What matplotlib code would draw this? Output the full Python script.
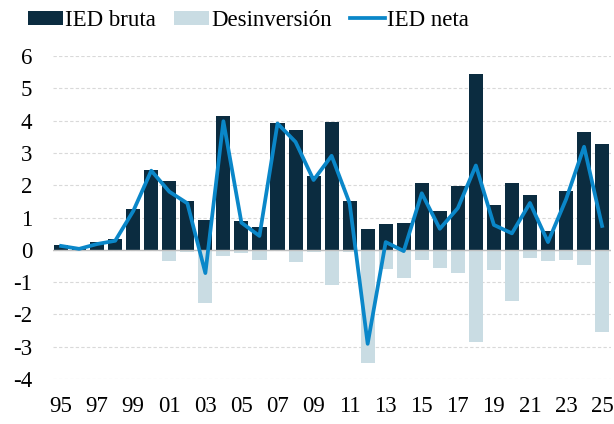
import numpy as np
import matplotlib
matplotlib.use("Agg")
import matplotlib.pyplot as plt

years = ['95', '96', '97', '98', '99', '00', '01', '02', '03', '04', '05', '06', '07', '08', '09', '10',
         '11', '12', '13', '14', '15', '16', '17', '18', '19', '20', '21', '22', '23', '24', '25']
ied_bruta = [0.15, 0.02, 0.23, 0.32, 1.27, 2.48, 2.13, 1.51, 0.93, 4.13, 0.90, 0.71, 3.92, 3.72, 2.27, 3.97,
             1.50, 0.63, 0.80, 0.83, 2.07, 1.21, 1.99, 5.45, 1.38, 2.08, 1.70, 0.57, 1.82, 3.64, 3.29]
desinversion = [0.0, 0.0, -0.04, -0.03, 0.0, -0.02, -0.34, -0.08, -1.64, -0.18, -0.11, -0.31, -0.02, -0.37, -0.07, -1.08,
                -0.07, -3.51, -0.59, -0.86, -0.33, -0.57, -0.71, -2.85, -0.62, -1.58, -0.24, -0.36, -0.31, -0.48, -2.55]
ied_neta = [0.12, 0.03, 0.18, 0.28, 1.20, 2.45, 1.80, 1.44, -0.72, 3.98, 0.84, 0.43, 3.91, 3.34, 2.16, 2.91,
            1.44, -2.91, 0.24, -0.04, 1.75, 0.65, 1.29, 2.61, 0.77, 0.51, 1.45, 0.24, 1.56, 3.19, 0.74]

plt.rcParams['font.family'] = ['Liberation Serif', 'DejaVu Serif']
plt.rcParams['axes.unicode_minus'] = False

fig = plt.figure(figsize=(6.14, 4.24), dpi=100)
ax = fig.add_axes([0.0863, 0.106, 0.909, 0.762])

x = np.arange(len(years))
b1 = ax.bar(x, ied_bruta, width=0.78, color='#0b2c40', label='IED bruta', zorder=2)
b2 = ax.bar(x, desinversion, width=0.78, color='#c9dce3', label='Desinversión', zorder=2)
l1, = ax.plot(x, ied_neta, color='#0a87c9', lw=2.7, label='IED neta', zorder=3)

ax.axhline(0, color='#bfbfbf', lw=1, zorder=2.5)
ax.set_ylim(-4, 6)
ax.set_yticks(range(-4, 7))
ax.yaxis.grid(True, linestyle=(0, (3, 2)), color='#d9d9d9', lw=0.8, zorder=0)
ax.set_xlim(-0.45, 30.5)
ax.set_xticks(x[::2])
ax.set_xticklabels(years[::2])
ax.tick_params(axis='both', length=0, labelsize=16.5)
ax.tick_params(axis='y', pad=15)
ax.tick_params(axis='x', pad=12)
for s in ax.spines.values():
    s.set_visible(False)

fig.legend(handles=[b1, b2, l1], loc='center left', bbox_to_anchor=(0.045, 0.952), ncol=3, frameon=False,
           fontsize=16.5, handlelength=1.55, handleheight=0.55, handletextpad=0.08, columnspacing=0.78,
           borderaxespad=0, borderpad=0)

fig.savefig('out.png', dpi=100)
